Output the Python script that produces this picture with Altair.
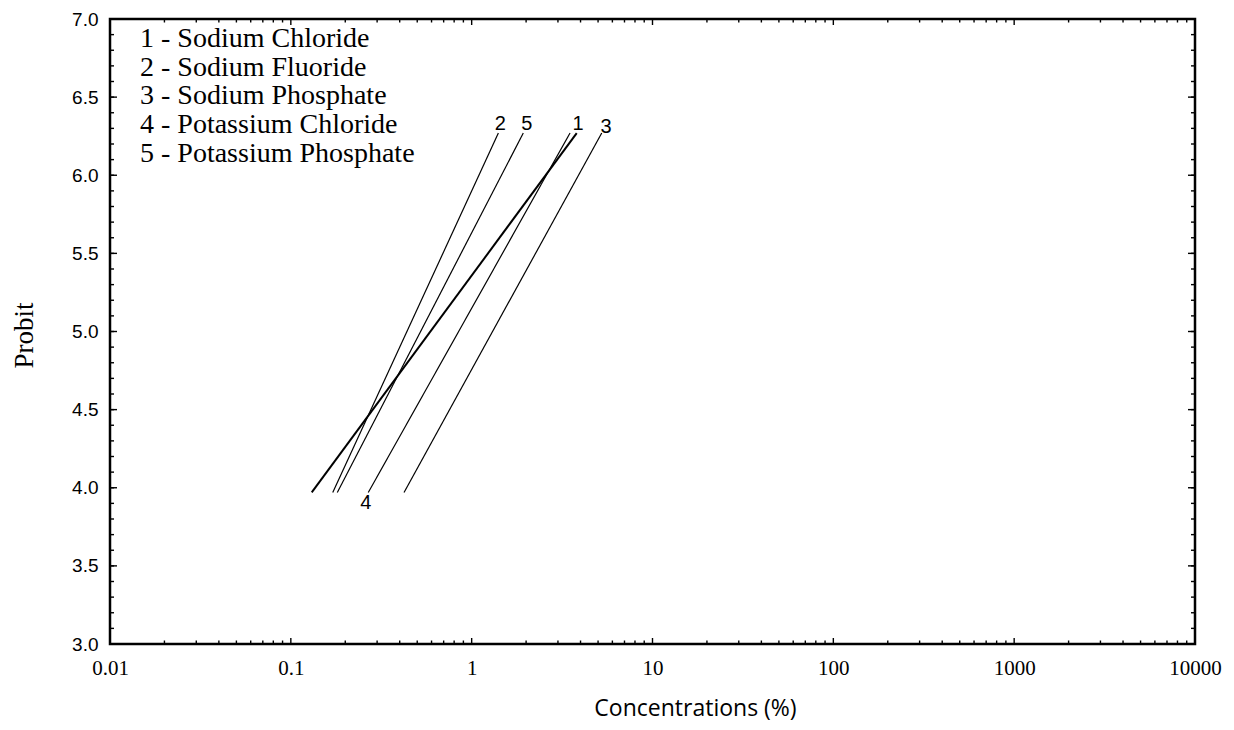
import altair as alt
import pandas as pd

# ---- data ----
series_ids = ["1", "2", "3", "4", "5"]
x_start = [0.1305, 0.1705, 0.4226, 0.268, 0.1807]
x_end = [3.81, 1.405, 5.24, 3.50, 1.93]
y_start = [3.97, 3.97, 3.97, 3.97, 3.97]
y_end = [6.27, 6.27, 6.27, 6.27, 6.27]
line_width = [2.0, 1.2, 1.2, 1.2, 1.2]

label_text = ["2", "5", "1", "3", "4"]
label_x = [1.44, 2.02, 3.87, 5.53, 0.26]
label_y = [6.33, 6.33, 6.33, 6.31, 3.90]

legend_lines = [
    "1 - Sodium Chloride",
    "2 - Sodium Fluoride",
    "3 - Sodium Phosphate",
    "4 - Potassium Chloride",
    "5 - Potassium Phosphate",
]

x_major = [0.01, 0.1, 1, 10, 100, 1000, 10000]
x_minor = [m * d for d in [0.01, 0.1, 1, 10, 100, 1000] for m in range(2, 10)]
y_major = [3.0, 3.5, 4.0, 4.5, 5.0, 5.5, 6.0, 6.5, 7.0]
y_minor = [round(3.0 + 0.1 * i, 1) for i in range(41)]

W, H = 1085, 625

rows = []
for i, s in enumerate(series_ids):
    rows.append({"s": s, "x": x_start[i], "y": y_start[i], "w": line_width[i]})
    rows.append({"s": s, "x": x_end[i], "y": y_end[i], "w": line_width[i]})
lines_df = pd.DataFrame(rows)
labels_df = pd.DataFrame({"t": label_text, "x": label_x, "y": label_y})

xscale = alt.Scale(type="log", domain=[0.01, 10000], nice=False)
yscale = alt.Scale(domain=[3, 7], nice=False, zero=False)

xaxis = alt.Axis(
    values=x_major, labelExpr="format(datum.value, '~g')", ticks=False, domain=False,
    grid=False, labelFont="Liberation Serif", labelFontSize=21, labelColor="black",
    labelPadding=13, labelFlush=False, labelOverlap=False,
    title="Concentrations (%)", titleFont="Open Sans", titleFontSize=23,
    titleFontWeight="normal", titleColor="black", titleX=585, titleY=64,
    titleBaseline="middle", titleAlign="center",
)
yaxis = alt.Axis(
    values=y_major, format=".1f", ticks=False, domain=False, grid=False,
    labelFont="Liberation Sans", labelFontSize=19, labelColor="black",
    labelPadding=12, labelFlush=False, labelOverlap=False,
    title="Probit", titleFont="Liberation Serif", titleFontSize=27,
    titleFontWeight="normal", titleColor="black", titleX=-86, titleY=316,
    titleBaseline="middle", titleAlign="center",
)

X = alt.X("x:Q", scale=xscale, axis=xaxis)
Y = alt.Y("y:Q", scale=yscale, axis=yaxis)

lines = alt.Chart(lines_df).mark_line(color="black").encode(
    x=X, y=Y, detail="s:N",
    strokeWidth=alt.StrokeWidth("w:Q", scale=None, legend=None),
)

labels = alt.Chart(labels_df).mark_text(
    font="Liberation Sans", fontSize=20, color="black", align="center", baseline="middle"
).encode(x=X, y=Y, text="t:N")

legend = alt.Chart(pd.DataFrame({"k": [0]})).mark_text(
    font="Liberation Serif", fontSize=28, color="black", align="left",
    baseline="top", lineHeight=28.7,
).encode(x=alt.value(30), y=alt.value(6), text=alt.value(legend_lines))

def xticks(vals, length):
    df = pd.DataFrame({"x": vals})
    bottom = alt.Chart(df).mark_rule(color="black", strokeWidth=1.4).encode(
        x=X, y=alt.value(H), y2=alt.value(H - length))
    top = alt.Chart(df).mark_rule(color="black", strokeWidth=1.4).encode(
        x=X, y=alt.value(0), y2=alt.value(length))
    return [bottom, top]

def yticks(vals, length):
    df = pd.DataFrame({"y": vals})
    left = alt.Chart(df).mark_rule(color="black", strokeWidth=1.4).encode(
        y=Y, x=alt.value(0), x2=alt.value(length))
    right = alt.Chart(df).mark_rule(color="black", strokeWidth=1.4).encode(
        y=Y, x=alt.value(W), x2=alt.value(W - length))
    return [left, right]

layers = [lines, labels, legend]
layers += xticks(x_major, 6) + xticks(x_minor, 3.5)
layers += yticks(y_major, 7) + yticks(y_minor, 4)

chart = alt.layer(*layers).properties(
    width=W, height=H,
    autosize=alt.AutoSizeParams(type="none"),
    padding={"left": 102, "top": 11, "right": 30, "bottom": 78},
).configure(background="white").configure_view(stroke="black", strokeWidth=2.5)

chart.save("out.html", embed_options={"renderer": "svg", "actions": False})
